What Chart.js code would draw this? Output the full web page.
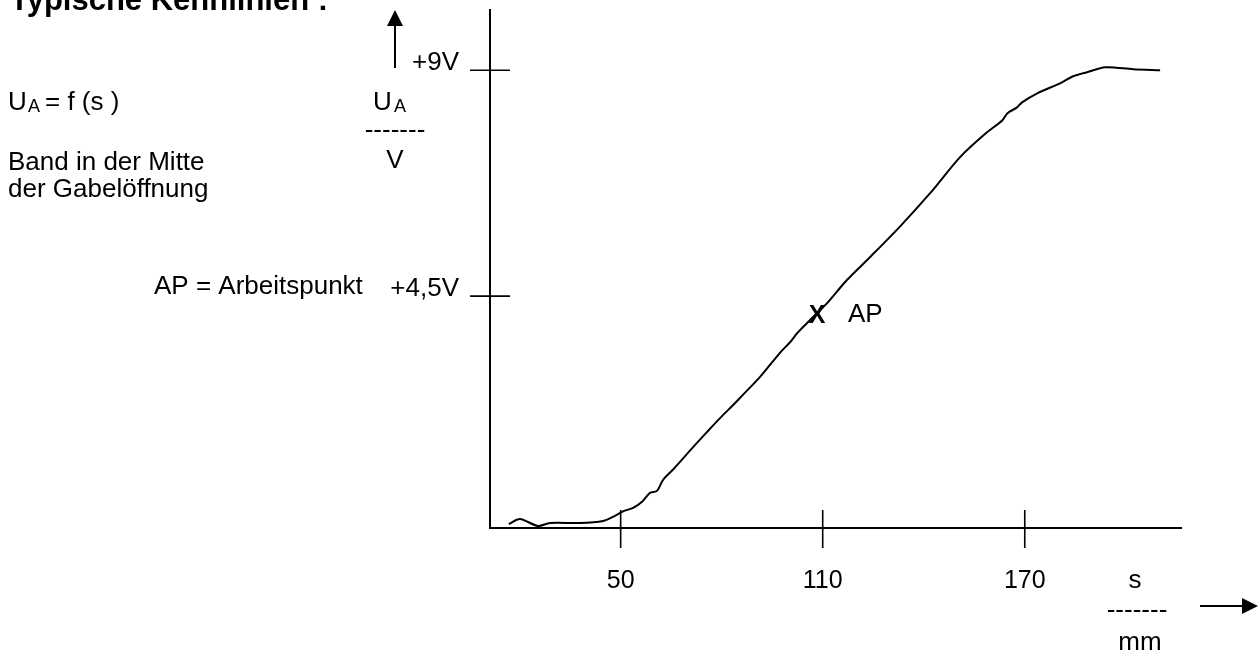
<!DOCTYPE html>
<html>
<head>
<meta charset="utf-8">
<title>Typische Kennlinien</title>
<script src="https://cdn.jsdelivr.net/npm/chart.js@4/dist/chart.umd.min.js"></script>
<style>
  body { margin: 0; background: #fff; }
  #box { width: 1258px; height: 651px; }
</style>
</head>
<body>
<div id="box"><canvas id="kennlinie"></canvas></div>
<script>
// data: s in mm, U_A in V
var sValues = [16.8, 20.1, 25.4, 29.0, 37.9, 44.8, 47.7, 51.0, 53.7, 56.6, 58.7, 60.8, 62.6, 65.5,
               71.5, 75.6, 79.5, 83.4, 85.4, 91.4, 97.3, 100.3, 102.4, 105.3, 108.3, 111.3, 117.2,
               124.1, 133.0, 141.9, 150.8, 158.2, 163.3, 164.8, 167.7, 169.2, 173.7, 180.5, 184.4,
               188.5, 193.9, 202.2, 210.2];
var uValues = [-0.04, 0.06, -0.08, -0.02, -0.02, 0.02, 0.10, 0.22, 0.28, 0.42, 0.58, 0.62, 0.84, 1.04,
               1.49, 1.79, 2.07, 2.33, 2.47, 2.89, 3.37, 3.58, 3.76, 3.96, 4.16, 4.36, 4.82,
               5.28, 5.89, 6.55, 7.27, 7.73, 8.00, 8.14, 8.26, 8.36, 8.54, 8.74, 8.88,
               8.96, 9.06, 9.02, 9.00];
var xTicks = [50, 110, 170];
var yTicks = [4.5, 9];
var yTickLabels = ['+4,5V', '+9V'];
var apPoint = [108.3, 4.12];

var points = [];
for (var i = 0; i < sValues.length; i++) {
  points.push({x: sValues[i], y: uValues[i]});
}

var FONT = '"Liberation Sans", Arial, sans-serif';

function arrow(ctx, x1, y1, x2, y2, head, half) {
  var ang = Math.atan2(y2 - y1, x2 - x1);
  var bx = x2 - head * Math.cos(ang), by = y2 - head * Math.sin(ang);
  ctx.beginPath();
  ctx.moveTo(x1, y1);
  ctx.lineTo(bx, by);
  ctx.stroke();
  ctx.beginPath();
  ctx.moveTo(x2, y2);
  ctx.lineTo(bx + half * Math.sin(ang), by - half * Math.cos(ang));
  ctx.lineTo(bx - half * Math.sin(ang), by + half * Math.cos(ang));
  ctx.closePath();
  ctx.fill();
}

// crosses on the axes, arrows, labels and the AP mark
var sketchPlugin = {
  id: 'sketch',
  afterDraw: function (chart) {
    var ctx = chart.ctx;
    var area = chart.chartArea;
    var xs = chart.scales.x, ys = chart.scales.y;
    ctx.save();
    ctx.strokeStyle = '#000';
    ctx.fillStyle = '#000';
    ctx.lineWidth = 1.6;

    xTicks.forEach(function (v) {
      var px = xs.getPixelForValue(v);
      ctx.beginPath();
      ctx.moveTo(px, area.bottom - 18);
      ctx.lineTo(px, area.bottom + 20);
      ctx.stroke();
    });
    yTicks.forEach(function (v) {
      var py = ys.getPixelForValue(v);
      ctx.beginPath();
      ctx.moveTo(area.left - 20, py);
      ctx.lineTo(area.left + 20, py);
      ctx.stroke();
    });

    ctx.lineWidth = 2;
    arrow(ctx, 395, 68, 395, 10, 16, 8);
    arrow(ctx, 1200, 606, 1258, 606, 16, 8);

    ctx.textBaseline = 'alphabetic';
    ctx.textAlign = 'left';
    ctx.font = 'bold 31px ' + FONT;
    ctx.fillText('Typische Kennlinien :', 10, 10);

    ctx.font = '26px ' + FONT;
    ctx.fillText('U', 8, 110);
    ctx.fillText('= f (s )', 45, 110);
    ctx.fillText('Band in der Mitte', 8, 170);
    ctx.fillText('der Gabelöffnung', 8, 197);
    ctx.fillText('AP = Arbeitspunkt', 154, 294);
    ctx.fillText('U', 373, 110);
    ctx.font = '18px ' + FONT;
    ctx.fillText('A', 28, 112);
    ctx.fillText('A', 394, 112);

    ctx.font = '26px ' + FONT;
    ctx.textAlign = 'center';
    ctx.fillText('-------', 395, 138);
    ctx.fillText('V', 395, 168);
    ctx.fillText('s', 1135, 588);
    ctx.fillText('-------', 1137, 618);
    ctx.fillText('mm', 1140, 650);

    var ax = xs.getPixelForValue(apPoint[0]);
    var ay = ys.getPixelForValue(apPoint[1]);
    ctx.textBaseline = 'middle';
    ctx.font = 'bold 25px ' + FONT;
    ctx.fillText('X', ax, ay + 1);
    ctx.textAlign = 'left';
    ctx.font = '26px ' + FONT;
    ctx.fillText('AP', ax + 31, ay);
    ctx.restore();
  }
};

var kennlinie = document.getElementById('kennlinie');
var kennlinieConfig = {
  type: 'line',
  data: {
    datasets: [{
      label: 'U_A = f(s)',
      data: points,
      borderColor: '#000',
      borderWidth: 2,
      pointRadius: 0,
      tension: 0.3,
      fill: false
    }]
  },
  options: {
    responsive: true,
    maintainAspectRatio: false,
    animation: false,
    events: [],
    layout: {
      padding: {left: 380, top: 10, right: 77, bottom: 43}
    },
    plugins: {
      legend: {display: false},
      tooltip: {enabled: false}
    },
    scales: {
      x: {
        type: 'linear',
        min: 11.2,
        max: 216.4,
        afterBuildTicks: function (scale) {
          scale.ticks = xTicks.map(function (v) { return {value: v}; });
        },
        afterFit: function (scale) {
          scale.height = 80;
          scale.paddingLeft = 0;
          scale.paddingRight = 0;
        },
        grid: {display: false, drawTicks: false},
        border: {display: true, color: '#000', width: 2},
        ticks: {
          color: '#000',
          padding: 38,
          maxRotation: 0,
          font: {family: FONT, size: 25},
          callback: function (v) { return String(v); }
        }
      },
      y: {
        type: 'linear',
        min: -0.12,
        max: 10.2,
        afterBuildTicks: function (scale) {
          scale.ticks = yTicks.map(function (v) { return {value: v}; });
        },
        afterFit: function (scale) {
          scale.width = 110;
          scale.paddingTop = 0;
          scale.paddingBottom = 0;
        },
        grid: {display: false, drawTicks: false},
        border: {display: true, color: '#000', width: 2},
        ticks: {
          color: '#000',
          padding: 31,
          labelOffset: -7,
          font: {family: FONT, size: 26},
          callback: function (v) { return yTickLabels[yTicks.indexOf(v)]; }
        }
      }
    }
  },
  plugins: [sketchPlugin]
};
var kennlinieChart = new Chart(kennlinie, kennlinieConfig);
</script>
</body>
</html>
